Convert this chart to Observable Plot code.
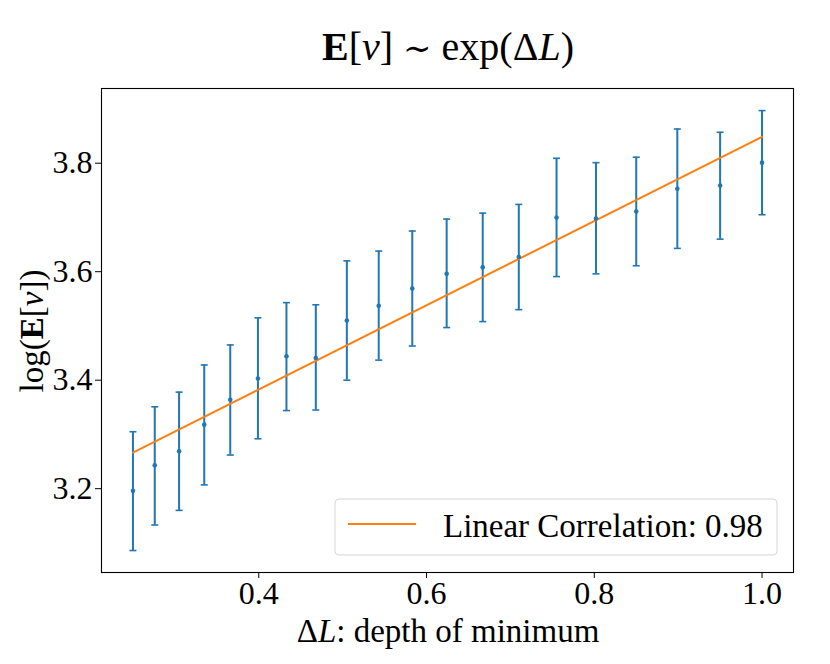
<!DOCTYPE html>
<html>
<head>
<meta charset="utf-8">
<script src="https://cdn.jsdelivr.net/npm/d3@7"></script>
<script src="https://cdn.jsdelivr.net/npm/@observablehq/plot@0.6"></script>
<style>
  html, body { margin: 0; padding: 0; background: white; }
  #chart { width: 830px; height: 664px; }
</style>
</head>
<body>
<div id="chart"></div>
<script>
// depth of minimum (ΔL)
const depth = [0.25, 0.276, 0.305, 0.335, 0.366, 0.399, 0.433, 0.468, 0.505, 0.543,
               0.583, 0.624, 0.667, 0.710, 0.755, 0.802, 0.850, 0.899, 0.950, 1.0];
// log(E[ν]) mean
const meanLog = [3.196, 3.243, 3.269, 3.318, 3.364, 3.403, 3.444, 3.441, 3.510, 3.537,
                 3.569, 3.596, 3.608, 3.627, 3.700, 3.698, 3.711, 3.753, 3.759, 3.801];
// error bar lower / upper ends
const lowLog = [3.086, 3.133, 3.160, 3.207, 3.262, 3.292, 3.344, 3.345, 3.400, 3.437,
                3.463, 3.497, 3.508, 3.530, 3.591, 3.596, 3.611, 3.643, 3.660, 3.705];
const highLog = [3.305, 3.351, 3.378, 3.428, 3.465, 3.515, 3.543, 3.539, 3.620, 3.638,
                 3.675, 3.697, 3.708, 3.724, 3.809, 3.801, 3.811, 3.863, 3.857, 3.897];
// linear fit endpoints
const fitX = [0.25, 1.0];
const fitY = [3.2665, 3.8486];
const xTicks = [0.4, 0.6, 0.8, 1.0];
const yTicks = [3.2, 3.4, 3.6, 3.8];
const legendLabel = "Linear Correlation: 0.98";

const data = depth.map((d, i) => ({x: d, y: meanLog[i], lo: lowLog[i], hi: highLog[i]}));
const fit = fitX.map((d, i) => ({x: d, y: fitY[i]}));

const BLUE = "#1f77b4", ORANGE = "#ff7f0e";
const FONT = "'Liberation Serif', 'DejaVu Serif', serif";

const capSymbol = {
  draw(context, size) {
    const w = 3.5;
    context.moveTo(-w, 0);
    context.lineTo(w, 0);
  }
};

const svg = Plot.plot({
  width: 830,
  height: 664,
  marginTop: 88,
  marginBottom: 92,
  marginLeft: 101,
  marginRight: 37,
  style: {fontFamily: FONT, fontSize: "32px", background: "white", color: "black"},
  x: {domain: [0.2125, 1.0375], ticks: xTicks, tickFormat: d3.format(".1f"), label: null},
  y: {domain: [3.0455, 3.9377], ticks: yTicks, tickFormat: d3.format(".1f"), label: null},
  marks: [
    Plot.axisX({ticks: xTicks, tickFormat: d3.format(".1f"), tickSize: 6, tickPadding: 3, label: null, fontSize: 32}),
    Plot.axisY({ticks: yTicks, tickFormat: d3.format(".1f"), tickSize: 6, tickPadding: 3, label: null, fontSize: 32}),
    Plot.ruleX(data, {x: "x", y1: "lo", y2: "hi", stroke: BLUE, strokeWidth: 2}),
    Plot.dot(data, {x: "x", y: "lo", symbol: capSymbol, stroke: BLUE, strokeWidth: 1.6, fill: "none"}),
    Plot.dot(data, {x: "x", y: "hi", symbol: capSymbol, stroke: BLUE, strokeWidth: 1.6, fill: "none"}),
    Plot.line(fit, {x: "x", y: "y", stroke: ORANGE, strokeWidth: 2}),
    Plot.dot(data, {x: "x", y: "y", r: 2.3, fill: BLUE, stroke: "none"}),
    Plot.frame({stroke: "black", strokeWidth: 1.1})
  ]
});

const s = d3.select(svg);

// Title
const title = s.append("text")
  .attr("x", 448).attr("y", 60)
  .attr("text-anchor", "middle")
  .attr("font-size", 40).attr("font-family", FONT).attr("fill", "black");
title.append("tspan").attr("font-weight", "bold").text("E");
title.append("tspan").text("[");
title.append("tspan").attr("font-style", "italic").text("ν");
title.append("tspan").text("] ");
title.append("tspan").attr("font-weight", "300").attr("font-size", 34).text("∼");
title.append("tspan").text(" exp(Δ");
title.append("tspan").attr("font-style", "italic").text("L");
title.append("tspan").text(")");

// X label
const xl = s.append("text")
  .attr("x", 448).attr("y", 642)
  .attr("text-anchor", "middle")
  .attr("font-size", 33).attr("font-family", FONT).attr("fill", "black");
xl.append("tspan").text("Δ");
xl.append("tspan").attr("font-style", "italic").text("L");
xl.append("tspan").text(": depth of minimum");

// Y label
const yl = s.append("text")
  .attr("transform", "translate(43,331) rotate(-90)")
  .attr("text-anchor", "middle")
  .attr("font-size", 33).attr("font-family", FONT).attr("fill", "black");
yl.append("tspan").text("log(");
yl.append("tspan").attr("font-weight", "bold").text("E");
yl.append("tspan").text("[");
yl.append("tspan").attr("font-style", "italic").text("ν");
yl.append("tspan").text("])");

// Legend
const lg = s.append("g");
lg.append("rect")
  .attr("x", 335).attr("y", 499).attr("width", 442).attr("height", 56)
  .attr("rx", 4).attr("ry", 4)
  .attr("fill", "white").attr("fill-opacity", 0.8)
  .attr("stroke", "#d6d6d6").attr("stroke-width", 1);
lg.append("line")
  .attr("x1", 348).attr("x2", 416).attr("y1", 524).attr("y2", 524)
  .attr("stroke", ORANGE).attr("stroke-width", 2);
lg.append("text")
  .attr("x", 443).attr("y", 537)
  .attr("text-anchor", "start")
  .attr("font-size", 33).attr("font-family", FONT).attr("fill", "black")
  .text(legendLabel);

document.getElementById("chart").appendChild(svg);
</script>
</body>
</html>
